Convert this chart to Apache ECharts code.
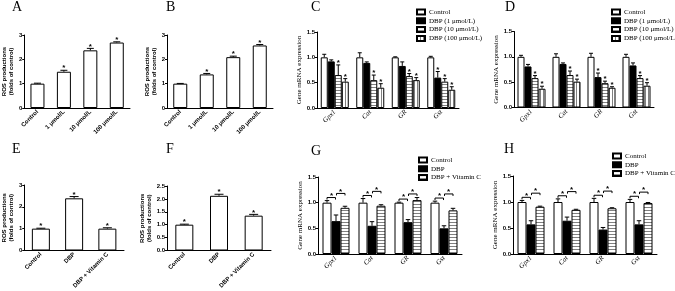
<!DOCTYPE html>
<html>
<head>
<meta charset="utf-8">
<script src="https://cdn.jsdelivr.net/npm/echarts@6/dist/echarts.min.js"></script>
<style>
html, body { margin: 0; padding: 0; background: #fff; }
#chart { width: 675px; height: 291px; }
</style>
</head>
<body>
<div id="chart"></div>
<script>
// ---- data ----
const rosDoseCats = ['Control', '1 μmol/L', '10 μmol/L', '100 μmol/L'];
const rosA = [1.0, 1.49, 2.37, 2.69];
const rosAErr = [0.02, 0.06, 0.08, 0.03];
const rosAStar = [0, 1, 1, 1];
const rosB = [1.0, 1.38, 2.09, 2.57];
const rosBErr = [0.01, 0.04, 0.04, 0.04];
const rosBStar = [0, 1, 1, 1];

const rosVitCats = ['Control', 'DBP', 'DBP + Vitamin C'];
const rosE = [1.0, 2.39, 1.0];
const rosEErr = [0.02, 0.08, 0.04];
const rosEStar = [1, 1, 1];
const rosF = [1.0, 2.12, 1.35];
const rosFErr = [0.02, 0.06, 0.05];
const rosFStar = [1, 1, 1];

const genes = ['Gpx1', 'Cat', 'GR', 'Gst'];
const doseNames = ['Control', 'DBP (1 μmol/L)', 'DBP (10 μmol/L)', 'DBP (100 μmol/L)'];
const vitNames = ['Control', 'DBP', 'DBP + Vitamin C'];

// panel C (per series, over genes)
const cVals = [[1.0, 1.0, 1.0, 1.0], [0.92, 0.89, 0.83, 0.60], [0.65, 0.55, 0.63, 0.52], [0.52, 0.40, 0.55, 0.36]];
const cErr = [[0.06, 0.09, 0.01, 0.02], [0.03, 0.02, 0.08, 0.12], [0.2, 0.1, 0.05, 0.06], [0.06, 0.08, 0.05, 0.06]];
const cStar = [[0, 0, 0, 0], [0, 0, 0, 1], [1, 1, 1, 1], [1, 1, 1, 1]];
// panel D
const dVals = [[1.0, 1.0, 1.0, 1.0], [0.81, 0.86, 0.60, 0.83], [0.58, 0.64, 0.48, 0.58], [0.37, 0.51, 0.39, 0.43]];
const dErr = [[0.03, 0.06, 0.07, 0.05], [0.04, 0.02, 0.08, 0.05], [0.05, 0.08, 0.04, 0.05], [0.05, 0.05, 0.02, 0.06]];
const dStar = [[0, 0, 0, 0], [0, 0, 1, 0], [1, 1, 1, 1], [1, 1, 1, 1]];
// panel G
const gVals = [[1.0, 1.0, 1.0, 1.0], [0.64, 0.55, 0.62, 0.50], [0.90, 0.94, 1.05, 0.85]];
const gErr = [[0.04, 0.08, 0.01, 0.03], [0.12, 0.08, 0.05, 0.05], [0.03, 0.02, 0.05, 0.04]];
// panel H
const hVals = [[1.0, 1.0, 1.0, 1.0], [0.57, 0.64, 0.47, 0.57], [0.91, 0.85, 0.88, 0.98]];
const hErr = [[0.03, 0.06, 0.07, 0.05], [0.07, 0.07, 0.04, 0.07], [0.01, 0.01, 0.01, 0.01]];

// ---- styling helpers ----
function stripes(vertical) {
    const c = document.createElement('canvas');
    c.width = 3; c.height = 3;
    const ctx = c.getContext('2d');
    ctx.fillStyle = '#fff';
    ctx.fillRect(0, 0, 3, 3);
    ctx.fillStyle = '#808080';
    if (vertical) ctx.fillRect(0, 0, 1, 3); else ctx.fillRect(0, 0, 3, 1);
    return c;
}
const fillWhite = '#fff';
const fillBlack = '#000';
const fillHoriz = { image: stripes(false), repeat: 'repeat' };
const fillVert = { image: stripes(true), repeat: 'repeat' };

const sans = 'Liberation Sans';
const serif = 'Liberation Serif';

const grids = [
    { left: 21, top: 35, width: 109, height: 73 },   // A
    { left: 167, top: 35, width: 106, height: 73 },  // B
    { left: 317, top: 32, width: 142, height: 76 },  // C
    { left: 514, top: 31.5, width: 140, height: 76 },// D
    { left: 20, top: 185, width: 104, height: 69 },  // E
    { left: 167, top: 186, width: 104, height: 68 }, // F
    { left: 318, top: 177, width: 144, height: 77 }, // G
    { left: 513, top: 176, width: 144, height: 78 }  // H
];
const barW = [14, 14, 7, 7, 18, 18, 9, 9];

function xAx(gi, cats, geneAxis) {
    return {
        type: 'category', gridIndex: gi, data: cats,
        axisLine: { lineStyle: { color: '#000', width: 1 } },
        axisTick: { alignWithLabel: true, length: 2, lineStyle: { color: '#000' } },
        axisLabel: geneAxis
            ? { rotate: 45, interval: 0, margin: 3, fontSize: 7, fontStyle: 'italic', fontFamily: serif, color: '#000' }
            : { rotate: 45, interval: 0, margin: 3, fontSize: 6, fontWeight: 'bold', fontFamily: sans, color: '#000' }
    };
}

function yAx(gi, max, interval, dec, geneAxis) {
    const ax = {
        type: 'value', gridIndex: gi, min: 0, max: max, interval: interval,
        splitLine: { show: false },
        axisLine: { show: true, lineStyle: { color: '#000', width: 1 } },
        axisTick: { show: true, length: 2, lineStyle: { color: '#000' } },
        axisLabel: { fontSize: 6, fontWeight: 'bold', fontFamily: sans, color: '#000', margin: 2,
            formatter: v => v.toFixed(dec) },
        nameLocation: 'middle'
    };
    if (geneAxis) {
        ax.name = 'Gene mRNA expression';
        ax.nameGap = 13;
        ax.nameTextStyle = { fontSize: 7, fontFamily: serif, color: '#000' };
    } else {
        ax.name = 'ROS productions\n(folds of control)';
        ax.nameGap = 7;
        ax.nameTextStyle = { fontSize: 6, fontWeight: 'bold', fontFamily: sans, color: '#000', lineHeight: 7 };
    }
    return ax;
}

function bars(gi, name, values, fill) {
    return {
        type: 'bar', name: name, xAxisIndex: gi, yAxisIndex: gi,
        data: values, barWidth: barW[gi], barGap: '0%',
        itemStyle: { color: fill, borderColor: '#000', borderWidth: 1 },
        silent: true
    };
}

function starText(x, y) {
    return { type: 'text', style: { text: '*', x: x, y: y, align: 'center', verticalAlign: 'top',
        font: 'bold 8px Liberation Sans', fill: '#000' } };
}

// error bars (+ stars) for one panel; vals/errs/stars are per series
function marks(gi, vals, errs, stars) {
    const n = vals.length;
    const bw = barW[gi];
    const data = [];
    vals.forEach((row, s) => row.forEach((v, c) => {
        data.push([c, v, errs[s][c], s, stars ? stars[s][c] : 0]);
    }));
    return {
        type: 'custom', xAxisIndex: gi, yAxisIndex: gi, silent: true, z: 3,
        data: data,
        renderItem: function (params, api) {
            const c = api.value(0), v = api.value(1), e = api.value(2);
            const x = api.coord([c, 0])[0] + (api.value(3) - (n - 1) / 2) * bw;
            const yTop = api.coord([c, v])[1];
            const yErr = api.coord([c, v + e])[1];
            const cap = Math.max(2, bw * 0.25);
            const kids = [
                { type: 'line', shape: { x1: x, y1: yTop, x2: x, y2: yErr }, style: { stroke: '#000', lineWidth: 1 } },
                { type: 'line', shape: { x1: x - cap, y1: yErr, x2: x + cap, y2: yErr }, style: { stroke: '#000', lineWidth: 1 } }
            ];
            if (api.value(4)) kids.push(starText(x, yErr - 6));
            return { type: 'group', children: kids };
        }
    };
}

// significance brackets Control-DBP and DBP-VitC
function brackets(gi, vals, errs) {
    const bw = barW[gi];
    const data = genes.map((g, c) => [c,
        vals[0][c] + errs[0][c], vals[1][c] + errs[1][c], vals[2][c] + errs[2][c]]);
    return {
        type: 'custom', xAxisIndex: gi, yAxisIndex: gi, silent: true, z: 3,
        data: data,
        renderItem: function (params, api) {
            const c = api.value(0);
            const x0 = api.coord([c, 0])[0];
            const xs = [x0 - bw, x0, x0 + bw];
            const b1 = Math.max(api.value(1), api.value(2)) + 0.06;
            const b2 = Math.max(b1 + 0.08, api.value(3) + 0.07);
            const y1 = api.coord([c, b1])[1];
            const y2 = api.coord([c, b2])[1];
            function br(xa, xb, y) {
                return { type: 'polyline', shape: { points: [[xa, y + 2], [xa, y], [xb, y], [xb, y + 2]] },
                    style: { stroke: '#000', fill: null, lineWidth: 1 } };
            }
            return { type: 'group', children: [
                br(xs[0], xs[1] - 0.5, y1), starText((xs[0] + xs[1]) / 2, y1 - 6),
                br(xs[1] + 0.5, xs[2], y2), starText((xs[1] + xs[2]) / 2, y2 - 6)
            ] };
        }
    };
}

function legendAt(names, left, top) {
    return {
        data: names, left: left, top: top, orient: 'vertical', icon: 'rect',
        itemWidth: 8, itemHeight: 5, itemGap: 0.8, padding: 0,
        selectedMode: false,
        textStyle: { fontFamily: serif, fontSize: 7, lineHeight: 8, color: '#000', padding: [0, 0, 0, -1] }
    };
}

function letter(t, x, y) {
    return { type: 'text', left: x, top: y, style: { text: t, font: '14px Liberation Serif', fill: '#000' } };
}

const dom = document.getElementById('chart');
const myChart = echarts.init(dom, null, { renderer: 'canvas' });

const option = {
    animation: false,
    grid: grids,
    xAxis: [
        xAx(0, rosDoseCats), xAx(1, rosDoseCats), xAx(2, genes, true), xAx(3, genes, true),
        xAx(4, rosVitCats), xAx(5, rosVitCats), xAx(6, genes, true), xAx(7, genes, true)
    ],
    yAxis: [
        yAx(0, 3, 1, 0), yAx(1, 3, 1, 0), yAx(2, 1.5, 0.5, 1, true), yAx(3, 1.5, 0.5, 1, true),
        yAx(4, 3, 1, 0), yAx(5, 2.5, 0.5, 1), yAx(6, 1.5, 0.5, 1, true), yAx(7, 1.5, 0.5, 1, true)
    ],
    legend: [
        legendAt(doseNames, 416, 8),
        legendAt(doseNames, 611, 8),
        legendAt(vitNames, 418, 156),
        legendAt(vitNames, 612, 152)
    ],
    graphic: [
        letter('A', 12, 0), letter('B', 166, 0), letter('C', 311, 0), letter('D', 505, 0),
        letter('E', 12, 142), letter('F', 166, 142), letter('G', 311, 144), letter('H', 504, 142)
    ],
    series: [
        bars(0, 'A', rosA, fillWhite),
        bars(1, 'B', rosB, fillWhite),
        bars(2, doseNames[0], cVals[0], fillWhite),
        bars(2, doseNames[1], cVals[1], fillBlack),
        bars(2, doseNames[2], cVals[2], fillHoriz),
        bars(2, doseNames[3], cVals[3], fillVert),
        bars(3, doseNames[0], dVals[0], fillWhite),
        bars(3, doseNames[1], dVals[1], fillBlack),
        bars(3, doseNames[2], dVals[2], fillHoriz),
        bars(3, doseNames[3], dVals[3], fillVert),
        bars(4, 'E', rosE, fillWhite),
        bars(5, 'F', rosF, fillWhite),
        bars(6, vitNames[0], gVals[0], fillWhite),
        bars(6, vitNames[1], gVals[1], fillBlack),
        bars(6, vitNames[2], gVals[2], fillHoriz),
        bars(7, vitNames[0], hVals[0], fillWhite),
        bars(7, vitNames[1], hVals[1], fillBlack),
        bars(7, vitNames[2], hVals[2], fillHoriz),
        marks(0, [rosA], [rosAErr], [rosAStar]),
        marks(1, [rosB], [rosBErr], [rosBStar]),
        marks(2, cVals, cErr, cStar),
        marks(3, dVals, dErr, dStar),
        marks(4, [rosE], [rosEErr], [rosEStar]),
        marks(5, [rosF], [rosFErr], [rosFStar]),
        marks(6, gVals, gErr),
        marks(7, hVals, hErr),
        brackets(6, gVals, gErr),
        brackets(7, hVals, hErr)
    ]
};

myChart.setOption(option);
window.addEventListener('resize', myChart.resize);
</script>
</body>
</html>
